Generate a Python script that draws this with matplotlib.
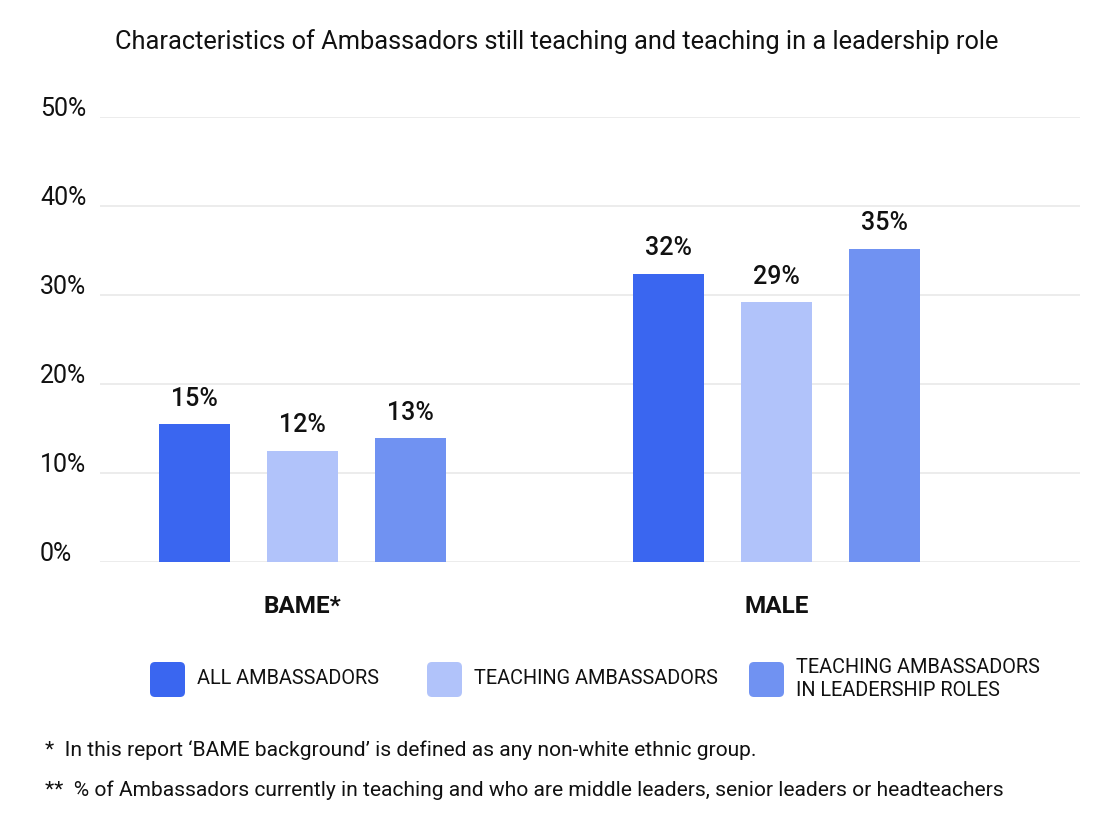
import matplotlib
matplotlib.use("Agg")
import matplotlib.pyplot as plt
import matplotlib.transforms as mtransforms
from matplotlib.patches import FancyBboxPatch
import numpy as np

plt.rcParams['font.family'] = ['Roboto', 'DejaVu Sans']

groups = ['BAME*', 'MALE']
series = ['ALL AMBASSADORS', 'TEACHING AMBASSADORS', 'TEACHING AMBASSADORS\nIN LEADERSHIP ROLES']
values = [
    [15.5, 32.4],   # all ambassadors
    [12.5, 29.2],   # teaching ambassadors
    [13.9, 35.2],   # teaching ambassadors in leadership roles
]
value_labels = [
    ['15%', '32%'],
    ['12%', '29%'],
    ['13%', '35%'],
]
y_ticks = [0, 10, 20, 30, 40, 50]
colors = ['#3A66F0', '#B1C3FA', '#7092F2']

title = 'Characteristics of Ambassadors still teaching and teaching in a leadership role'
notes = [
    "*  In this report \u2018BAME background\u2019 is defined as any non-white ethnic group.",
    "**  % of Ambassadors currently in teaching and who are middle leaders, senior leaders or headteachers",
]

fig = plt.figure(figsize=(11.13, 8.27), dpi=100)
ax = fig.add_axes([0.0898, 0.3204, 0.8802, 0.5381])

x = np.arange(len(groups))
offset = 0.228
width = 0.15
for i, (vals, labs) in enumerate(zip(values, value_labels)):
    pos = x + (i - 1) * offset
    ax.bar(pos, vals, width=width, color=colors[i], zorder=3)
    for p, v, l in zip(pos, vals, labs):
        ax.text(p, v + 1.5, l, ha='center', va='bottom', fontsize=18,
                fontweight='medium', color='#111111')

ax.set_xlim(-0.428, 1.639)
ax.set_ylim(0, 50)
ax.set_yticks(y_ticks)
ax.set_yticklabels([])
ax.set_xticks([])
ax.tick_params(axis='y', length=0)
ax.grid(axis='y', color='#EBEBEB', linewidth=1.3, zorder=0)
for s in ax.spines.values():
    s.set_visible(False)

# y tick labels drawn by hand: left aligned, baseline just on the grid line
lab_tr = mtransforms.blended_transform_factory(fig.transFigure, ax.transData)
lab_tr = lab_tr + mtransforms.ScaledTranslation(0, 1.5 / 100, fig.dpi_scale_trans)
for t in y_ticks:
    ax.text(40 / 1113, t, f'{t}%', transform=lab_tr, ha='left', va='baseline',
            fontsize=18, color='#111111')

for xi, g in zip(x, groups):
    ax.text(xi, -5.0, g, ha='center', va='center', fontsize=17.5,
            fontweight='bold', color='#111111')

fig.text(0.5, 1 - 42 / 827, title, ha='center', va='center', fontsize=18.3, color='#111111')

# legend, laid out by hand
leg_x = [150, 427, 749]
for xl, c, s in zip(leg_x, colors, series):
    box = FancyBboxPatch((xl / 100, 1.30), 0.35, 0.35,
                         boxstyle='round,pad=0,rounding_size=0.05',
                         transform=fig.dpi_scale_trans, facecolor=c,
                         edgecolor='none')
    fig.patches.append(box)
    fig.text((xl + 47) / 1113, 1 - 679 / 827, s, ha='left', va='center',
             fontsize=14.3, color='#111111', linespacing=1.3)

fig.text(45 / 1113, 1 - 750 / 827, notes[0], ha='left', va='center', fontsize=15.1, color='#111111')
fig.text(45 / 1113, 1 - 790 / 827, notes[1], ha='left', va='center', fontsize=15.1, color='#111111')

fig.savefig('out.png', dpi=100, facecolor='white')
